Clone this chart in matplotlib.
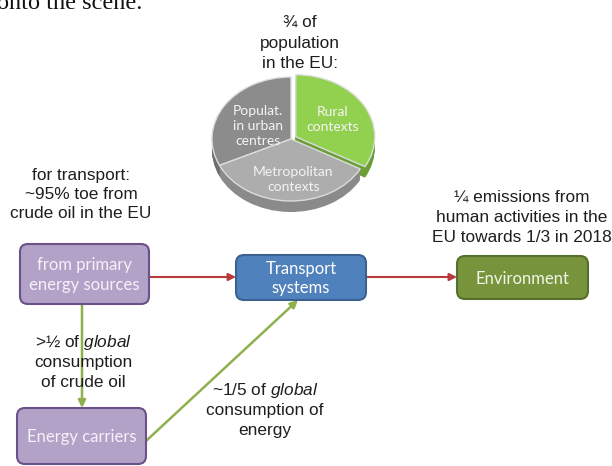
import matplotlib
matplotlib.use("Agg")
import matplotlib.pyplot as plt
from matplotlib.patches import FancyBboxPatch
import numpy as np

plt.rcParams['mathtext.fontset'] = 'custom'
plt.rcParams['mathtext.rm'] = 'Liberation Sans'
plt.rcParams['mathtext.it'] = 'Liberation Sans:italic'

# ---------------- data ----------------
pie_labels = ["Populat.\nin urban\ncentres", "Metropolitan\ncontexts", "Rural\ncontexts"]
pie_values = [32, 35, 33]
pie_colors = ["#8c8c8c", "#adadad", "#92d050"]
pie_side_colors = ["#6e6e6e", "#8a8a8a", "#6c9e36"]
pie_explode = [0, 0, 0.07]

pie_title = ["¾ of", "population", "in the EU:"]
note_transport = ["for transport:", "~95% toe from", "crude oil in the EU"]
note_emissions = ["¼ emissions from", "human activities in the", "EU towards 1/3 in 2018"]
note_crude = [r">½ of $\mathit{global}$", "consumption", "of crude oil"]
note_energy = [r"~1/5 of $\mathit{global}$", "consumption of", "energy"]
header_text = "onto the scene."

box_names = ["primary", "transport", "environment", "carriers"]
box_labels = ["from primary\nenergy sources", "Transport\nsystems", "Environment", "Energy carriers"]

# ---------------- layout ----------------
W, H = 612, 466
fig = plt.figure(figsize=(W / 100, H / 100), dpi=100)
ax = fig.add_axes([0, 0, 1, 1])
ax.set_xlim(0, W)
ax.set_ylim(H, 0)
ax.axis('off')

box_geom = {  # x0, y0, x1, y1 in pixels
    "primary": (20, 244, 149, 304),
    "transport": (236, 255, 366, 300),
    "environment": (457, 256, 588, 299),
    "carriers": (17, 408, 146, 464),
}
box_style = {
    "primary": ("#b3a2c7", "#6a5188", "#f5f1f9"),
    "transport": ("#4f81bd", "#3a6190", "#ffffff"),
    "environment": ("#77933c", "#56702a", "#f1f6e8"),
    "carriers": ("#b3a2c7", "#6a5188", "#f5f1f9"),
}

for name, lab in zip(box_names, box_labels):
    x0, y0, x1, y1 = box_geom[name]
    fc, ec, tc = box_style[name]
    p = FancyBboxPatch((x0, y0), x1 - x0, y1 - y0,
                       boxstyle="round,pad=0,rounding_size=8",
                       fc=fc, ec=ec, lw=1.5, zorder=3)
    ax.add_patch(p)
    ax.text((x0 + x1) / 2, (y0 + y1) / 2 + 1, lab, ha='center', va='center',
            fontsize=12, family='Lato', color=tc, linespacing=1.25, zorder=4)

# arrows
red = "#b83a3a"
green = "#8fb04e"
arrows = [
    ((149, 277), (236, 277), red, 1.5),
    ((366, 277), (457, 277), red, 1.5),
    ((82, 304), (82, 408), green, 1.8),
    ((146, 441), (298, 300), green, 1.8),
]
for (sx, sy), (ex, ey), c, lw in arrows:
    ax.annotate('', xy=(ex, ey), xytext=(sx, sy),
                arrowprops=dict(arrowstyle='-|>', color=c, lw=lw,
                                mutation_scale=11, shrinkA=0, shrinkB=0),
                zorder=2)

# notes (one text per line, baseline positions)
txt_kw = dict(ha='center', va='baseline', fontsize=12.4,
              family='Liberation Sans', color='#1e1e1e')

def note(lines, cx, baselines):
    for s, b in zip(lines, baselines):
        ax.text(cx, b, s, **txt_kw)

note(pie_title, 300, [27, 48, 68])
note(note_transport, 81, [180, 199, 218])
note(note_emissions, 522, [202, 222, 242])
note(note_crude, 83, [347, 367, 387])
note(note_energy, 265, [395, 415, 435])

ax.text(-3, 9, header_text, ha='left', va='baseline', fontsize=17.5,
        family='Liberation Serif', color='#111111')

# ---------------- 3D-looking pie ----------------
cx, cy, rx, ry = 291, 139, 79, 62
aw, ah = 2.5 * rx, 2.5 * ry
pax = fig.add_axes([(cx - aw / 2) / W, 1 - (cy + ah / 2) / H, aw / W, ah / H])
depth = 11 / ry
for d in np.linspace(depth, 0.02, 12):
    pax.pie(pie_values, colors=pie_side_colors, startangle=90, counterclock=True,
            explode=pie_explode, center=(0, -d),
            wedgeprops=dict(linewidth=0))
wedges, texts = pax.pie(pie_values, colors=pie_colors, startangle=90, counterclock=True,
                        explode=pie_explode, labels=pie_labels, labeldistance=0.55,
                        wedgeprops=dict(edgecolor='#dcdcdc', linewidth=1.0),
                        textprops=dict(family='Lato', fontsize=10, color='#f4f4f4',
                                       ha='center', va='center', linespacing=1.3))
label_pos = [(-0.42, 0.21), (0.03, -0.66), (0.53, 0.32)]
for t, pos in zip(texts, label_pos):
    t.set_position(pos)
pax.set_aspect('auto')
pax.set_xlim(-1.25, 1.25)
pax.set_ylim(-1.25, 1.25)
pax.axis('off')

fig.savefig("out.png", dpi=100)
